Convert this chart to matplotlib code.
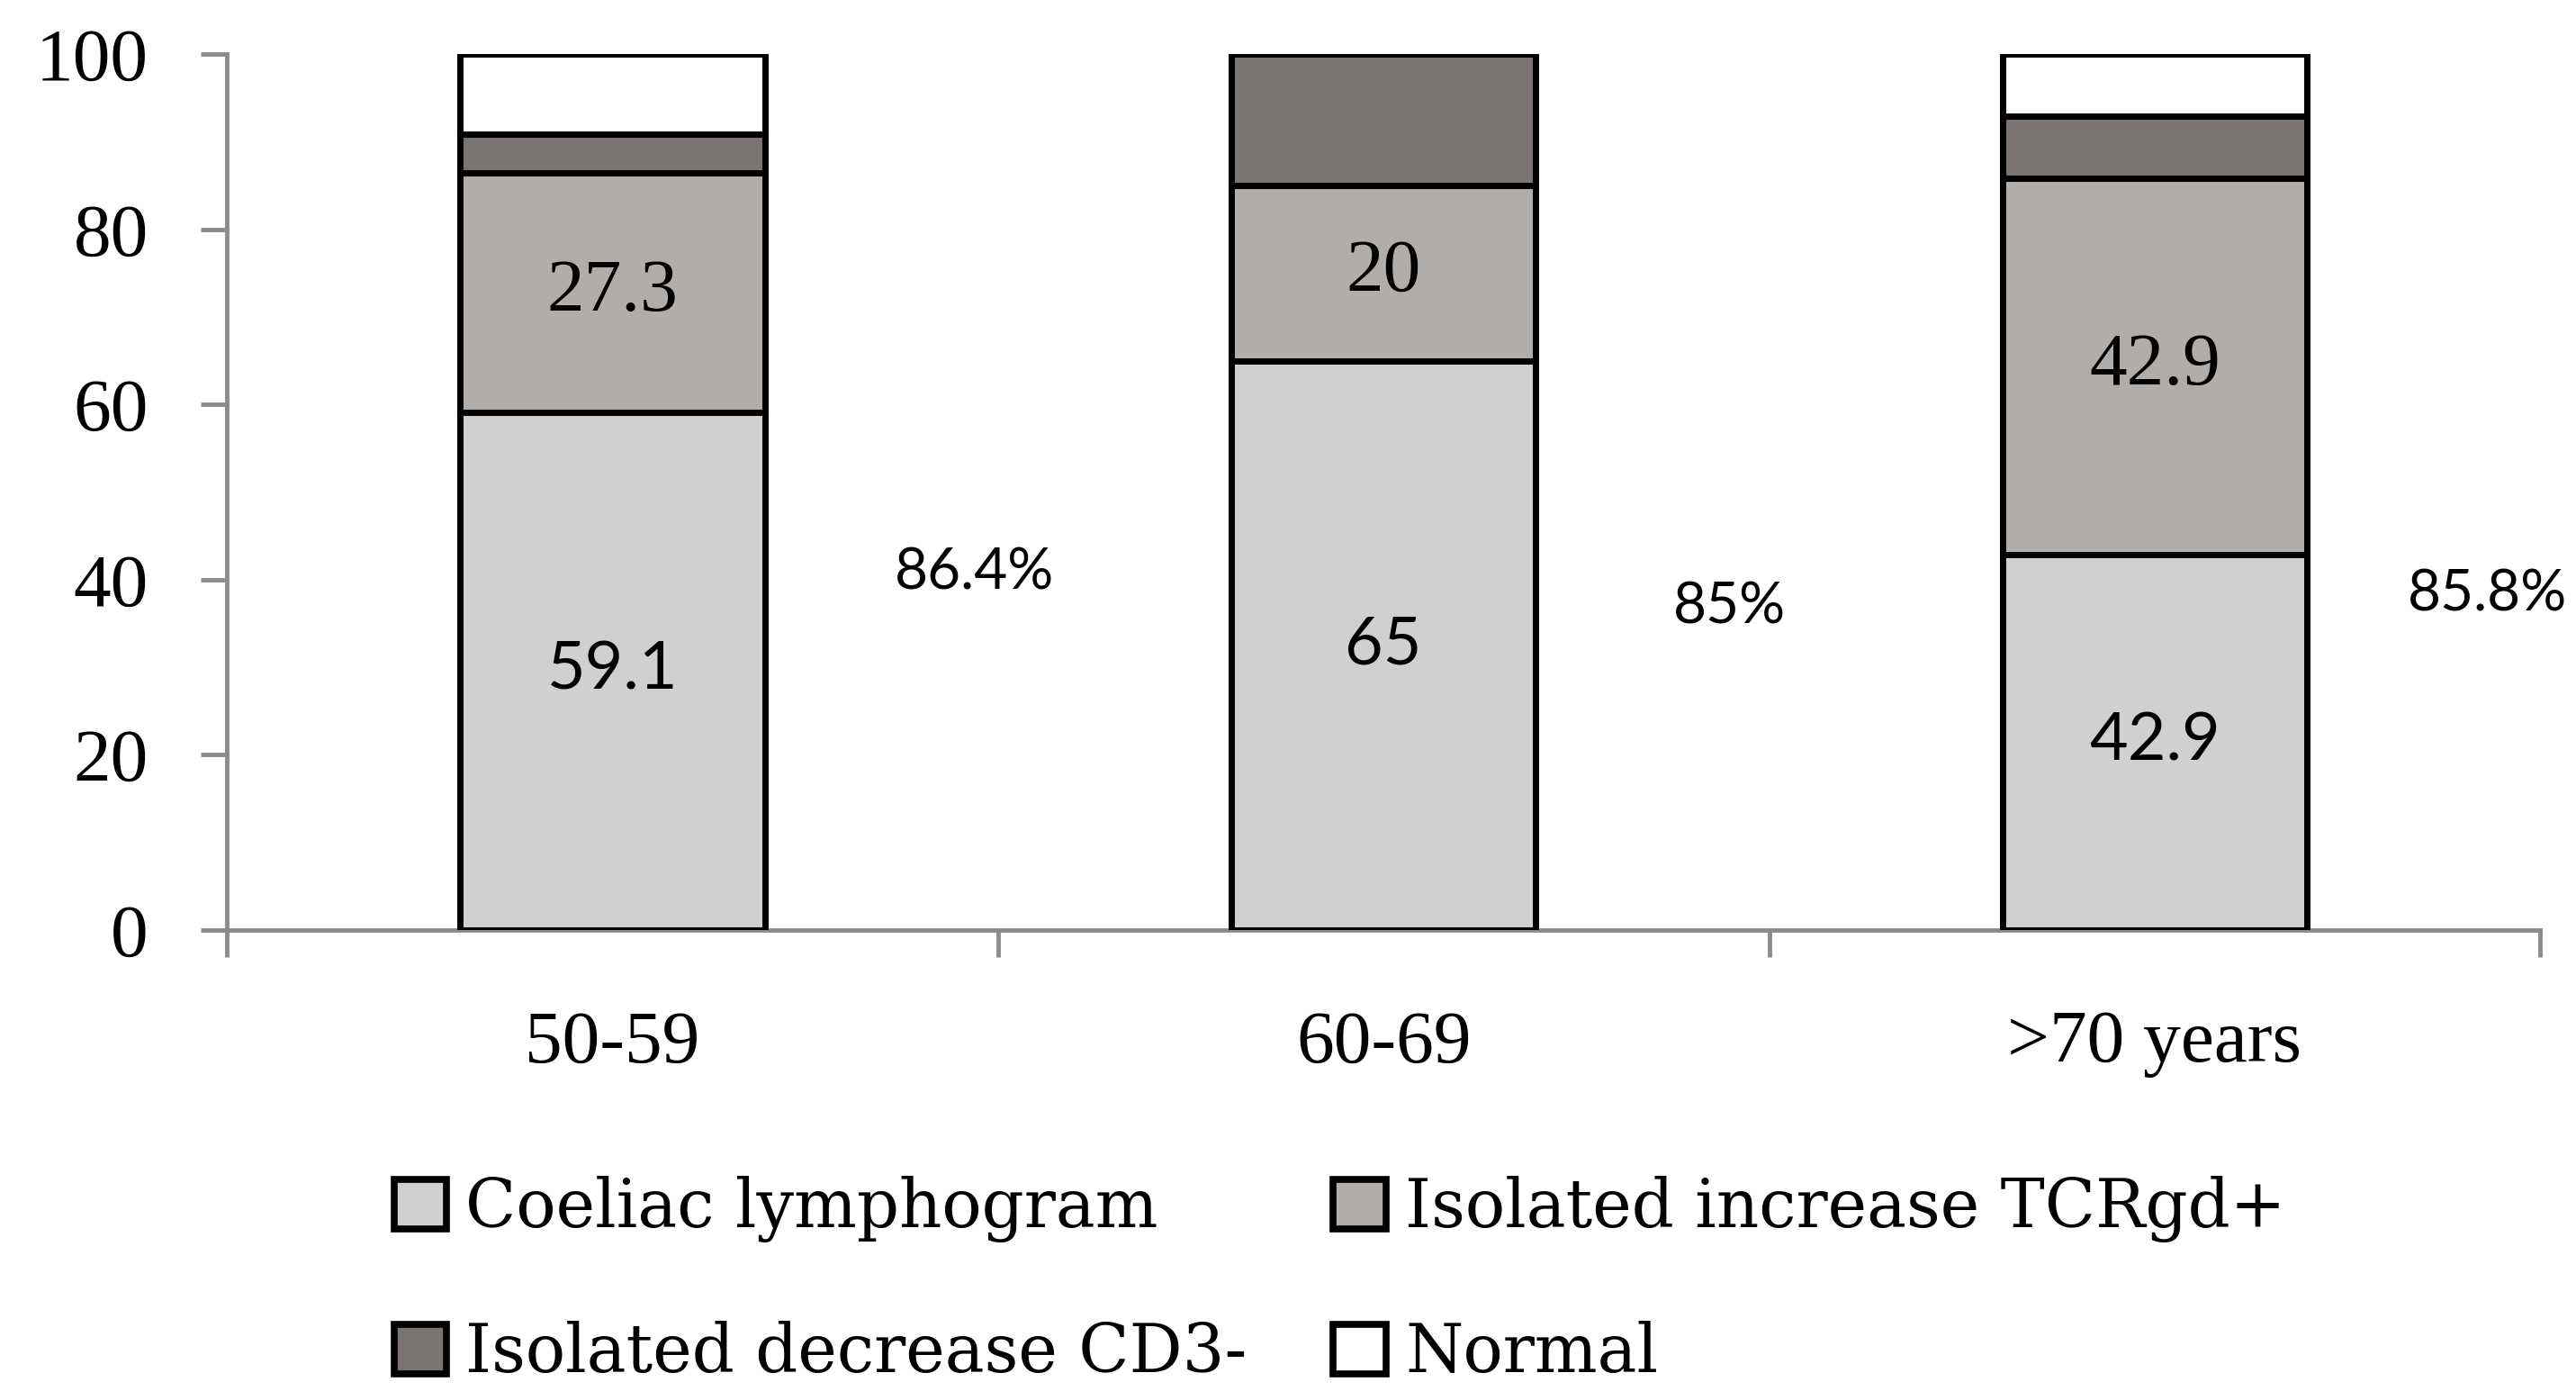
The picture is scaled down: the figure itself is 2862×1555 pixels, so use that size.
import matplotlib
matplotlib.use("Agg")
import matplotlib.pyplot as plt
import numpy as np

# ---------------------------------------------------------------------
# Data
# ---------------------------------------------------------------------
age_groups = ["50-59", "60-69", ">70 years"]
series_names = ["Coeliac lymphogram", "Isolated increase TCRgd+",
                "Isolated decrease CD3-", "Normal"]
coeliac = [59.1, 65.0, 42.9]
tcrgd = [27.3, 20.0, 42.9]
cd3_decrease = [4.5, 15.0, 7.1]
normal = [9.1, 0.0, 7.1]
coeliac_labels = ["59.1", "65", "42.9"]
tcrgd_labels = ["27.3", "20", "42.9"]
total_labels = ["86.4%", "85%", "85.8%"]

colors = ["#d1d0ce", "#b1adab", "#7a7473", "#ffffff"]
serif = "Liberation Serif"
legend_serif = "DejaVu Serif"
sans = "Lato"

fig = plt.figure(figsize=(28.62, 15.55), dpi=100)
ax = fig.add_axes([0.0881, 0.3357, 0.898, 0.6257])

x = np.arange(len(age_groups))
width = 0.395
stacks = [coeliac, tcrgd, cd3_decrease, normal]
bottom = np.zeros(len(age_groups))
for vals, col, name in zip(stacks, colors, series_names):
    vals = np.array(vals)
    ax.bar(x, vals, width, bottom=bottom, color=col, edgecolor="black",
           linewidth=5, label=name, zorder=3)
    bottom += vals

# value labels inside bars
for i in range(len(age_groups)):
    ax.text(x[i], coeliac[i] / 2, coeliac_labels[i], ha="center", va="center",
            fontsize=53, family=sans, zorder=4)
    ax.text(x[i], coeliac[i] + tcrgd[i] / 2, tcrgd_labels[i], ha="center",
            va="center", fontsize=60, family=serif, zorder=4)

# totals written in the gaps between bars
total_pos = [(0.469, 40.7), (1.448, 36.8), (2.432, 38.3)]
for (px, py), lab in zip(total_pos, total_labels):
    ax.text(px, py, lab, ha="center", va="center", fontsize=46, family=sans)

ax.set_xlim(-0.5, 2.5)
ax.set_ylim(0, 100)
ax.set_yticks([0, 20, 40, 60, 80, 100])
ax.set_xticks([-0.5, 0.5, 1.5, 2.5])
ax.set_xticklabels([])
ax.set_xticks(x, minor=True)
ax.set_xticklabels(age_groups, minor=True)

spine_col = "#8c8c8c"
for s in ["top", "right"]:
    ax.spines[s].set_visible(False)
for s in ["left", "bottom"]:
    ax.spines[s].set_color(spine_col)
    ax.spines[s].set_linewidth(3.5)
ax.tick_params(axis="y", which="major", length=21, width=3.5, color=spine_col,
               labelsize=60, pad=42)
ax.tick_params(axis="x", which="major", length=21.6, width=3.5, color=spine_col)
ax.tick_params(axis="x", which="minor", length=0, labelsize=60, pad=64)
for lab in ax.get_yticklabels() + ax.get_xticklabels(minor=True):
    lab.set_family(serif)

# legend filled row by row: (Coeliac, TCRgd) then (CD3-, Normal)
handles, labels = ax.get_legend_handles_labels()
order = [0, 2, 1, 3]
leg = fig.legend([handles[i] for i in order], [labels[i] for i in order],
                 ncol=2, loc="upper left", bbox_to_anchor=(0.153, 0.160),
                 frameon=False, prop={"family": legend_serif, "size": 53},
                 handlelength=0.79, handleheight=0.77, handletextpad=0.29,
                 columnspacing=1.3, labelspacing=1.18, borderpad=0,
                 borderaxespad=0)
for h in leg.legend_handles:
    h.set_linewidth(5.5)

fig.savefig("out.png", dpi=100, facecolor="white")
